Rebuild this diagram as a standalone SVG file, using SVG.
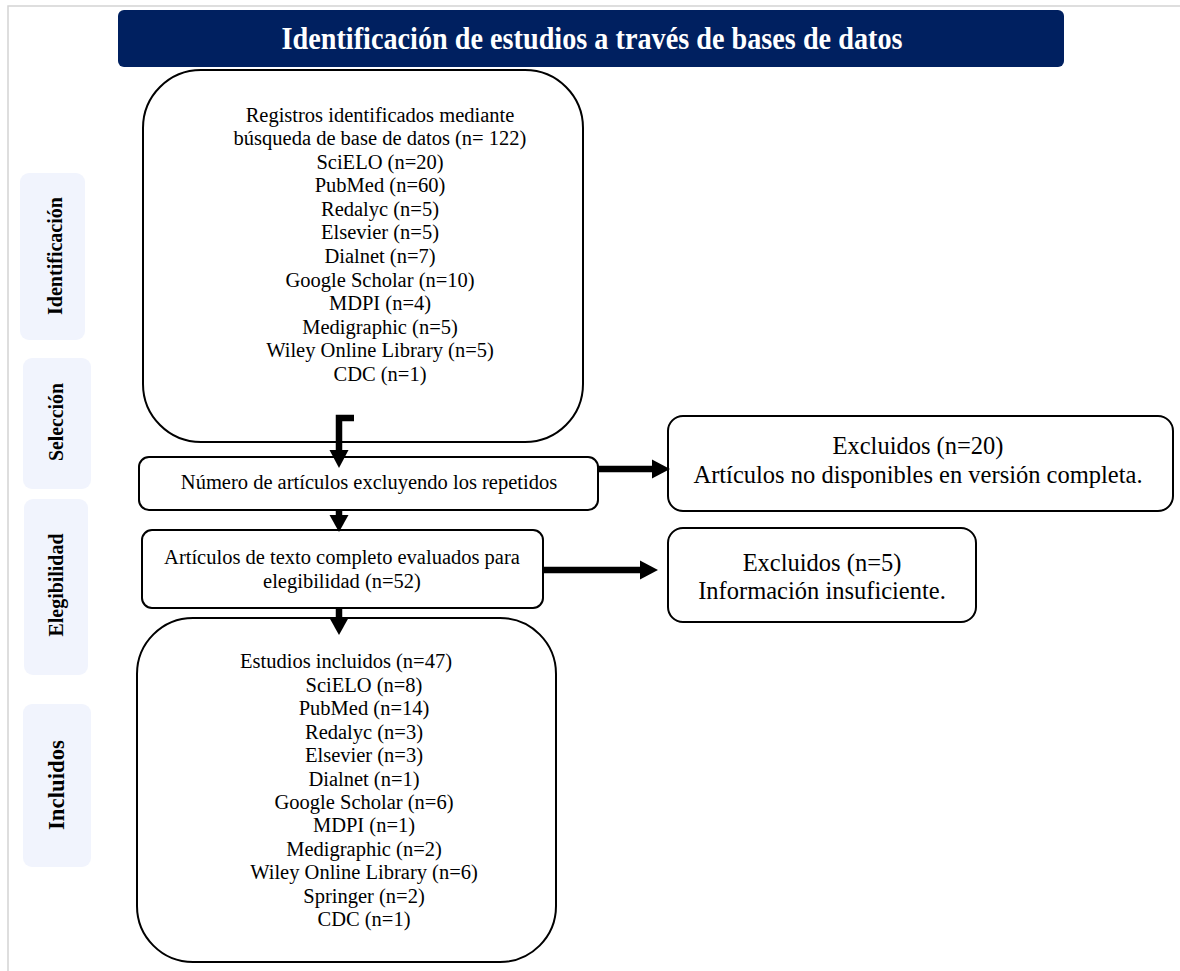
<svg xmlns="http://www.w3.org/2000/svg" width="1180" height="971" viewBox="0 0 1180 971">
<style>
.frame{stroke:#d4d4d4;stroke-width:1.5;fill:none}
.phase{fill:#f1f4fd;stroke:none}
.plabel{font-family:"Liberation Serif","Times New Roman",serif;font-weight:bold;fill:#000;text-anchor:middle}
.box{fill:#fff;stroke:#000;stroke-width:2}
.t{font-family:"Liberation Serif","Times New Roman",serif;font-size:20.5px;fill:#000;text-anchor:middle}
.tl{font-family:"Liberation Serif","Times New Roman",serif;font-size:24.5px;fill:#000;text-anchor:middle}
.shaft{stroke:#000;stroke-width:6.5;fill:none;stroke-linejoin:miter}
.head{fill:#000}
</style>
<rect width="1180" height="971" fill="#fff"/>
<path class="frame" d="M8 971 V6 H1180"/>

<g id="title">
<rect x="118" y="10" width="946" height="57" rx="6" fill="#002060"/>
<text x="592" y="49" font-family="Liberation Serif,'Times New Roman',serif" font-weight="bold" font-size="31" fill="#fff" text-anchor="middle" textLength="621" lengthAdjust="spacingAndGlyphs">Identificación de estudios a través de bases de datos</text>
</g>

<g id="phase-identificacion">
<rect class="phase" x="20" y="173" width="65" height="167" rx="9"/>
<text class="plabel" font-size="21" transform="translate(62,256) rotate(-90)" textLength="118" lengthAdjust="spacingAndGlyphs">Identificación</text>
</g>
<g id="phase-seleccion">
<rect class="phase" x="23" y="358" width="68" height="131" rx="9"/>
<text class="plabel" font-size="21" transform="translate(63,422) rotate(-90)" textLength="78" lengthAdjust="spacingAndGlyphs">Selección</text>
</g>
<g id="phase-elegibilidad">
<rect class="phase" x="24" y="499" width="64" height="176" rx="9"/>
<text class="plabel" font-size="21" transform="translate(63,585) rotate(-90)" textLength="103" lengthAdjust="spacingAndGlyphs">Elegibilidad</text>
</g>
<g id="phase-incluidos">
<rect class="phase" x="23" y="704" width="68" height="163" rx="9"/>
<text class="plabel" font-size="24" transform="translate(64,785) rotate(-90)" textLength="90" lengthAdjust="spacingAndGlyphs">Incluidos</text>
</g>

<g id="registros">
<rect class="box" x="143" y="70" width="440" height="372" rx="58"/>
<text class="t" x="380" y="121.7">Registros identificados mediante</text>
<text class="t" x="380" y="145.2">búsqueda de base de datos (n= 122)</text>
<text class="t" x="380" y="168.8">SciELO (n=20)</text>
<text class="t" x="380" y="192.3">PubMed (n=60)</text>
<text class="t" x="380" y="215.9">Redalyc (n=5)</text>
<text class="t" x="380" y="239.4">Elsevier (n=5)</text>
<text class="t" x="380" y="263.0">Dialnet (n=7)</text>
<text class="t" x="380" y="286.5">Google Scholar (n=10)</text>
<text class="t" x="380" y="310.1">MDPI (n=4)</text>
<text class="t" x="380" y="333.6">Medigraphic (n=5)</text>
<text class="t" x="380" y="357.2">Wiley Online Library (n=5)</text>
<text class="t" x="380" y="380.7">CDC (n=1)</text>
</g>

<g id="sin-repetidos">
<rect class="box" x="139" y="457" width="459" height="53" rx="10"/>
<text class="t" x="369" y="489">Número de artículos excluyendo los repetidos</text>
</g>

<g id="excluidos-20">
<rect class="box" x="668" y="416" width="505" height="95" rx="15"/>
<text class="tl" x="918" y="454">Excluidos (n=20)</text>
<text class="tl" x="918" y="483">Artículos no disponibles en versión completa.</text>
</g>

<g id="texto-completo">
<rect class="box" x="142" y="530" width="401" height="78" rx="10"/>
<text class="t" x="342" y="564.3">Artículos de texto completo evaluados para</text>
<text class="t" x="342" y="588">elegibilidad (n=52)</text>
</g>

<g id="excluidos-5">
<rect class="box" x="668" y="528" width="308" height="94" rx="15"/>
<text class="tl" x="822" y="570.5">Excluidos (n=5)</text>
<text class="tl" x="822" y="599">Información insuficiente.</text>
</g>

<g id="incluidos">
<rect class="box" x="137" y="618" width="419" height="344" rx="56"/>
<text class="t" x="346" y="668.3">Estudios incluidos (n=47)</text>
<text class="t" x="364" y="691.7">SciELO (n=8)</text>
<text class="t" x="364" y="715.2">PubMed (n=14)</text>
<text class="t" x="364" y="738.6">Redalyc (n=3)</text>
<text class="t" x="364" y="762.0">Elsevier (n=3)</text>
<text class="t" x="364" y="785.5">Dialnet (n=1)</text>
<text class="t" x="364" y="808.9">Google Scholar (n=6)</text>
<text class="t" x="364" y="832.3">MDPI (n=1)</text>
<text class="t" x="364" y="855.7">Medigraphic (n=2)</text>
<text class="t" x="364" y="879.2">Wiley Online Library (n=6)</text>
<text class="t" x="364" y="902.6">Springer (n=2)</text>
<text class="t" x="364" y="926.0">CDC (n=1)</text>
</g>

<g id="connectors">
<path class="shaft" d="M354 418 H339 V452"/>
<polygon class="head" points="329.5,450 348.5,450 339,468"/>
<path class="shaft" d="M339 510 V517"/>
<polygon class="head" points="329.5,515 348.5,515 339,532"/>
<path class="shaft" d="M339 608 V620"/>
<polygon class="head" points="329.5,618 348.5,618 339,635"/>
<path class="shaft" d="M598 469 H653"/>
<polygon class="head" points="652,459.5 652,478.5 670,469"/>
<path class="shaft" d="M543 570 H641"/>
<polygon class="head" points="640,560.5 640,579.5 658,570"/>
</g>
</svg>
